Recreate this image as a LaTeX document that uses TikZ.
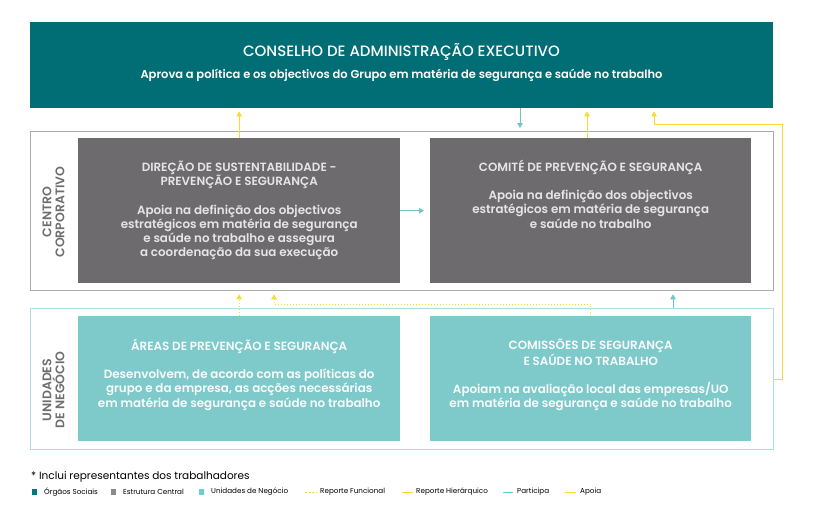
\documentclass[tikz,border=0pt]{standalone}
\usepackage{fontspec}
\setmainfont{Poppins}
\newfontfamily\popmedium{Poppins Medium}
\newfontfamily\popsemi{Poppins SemiBold}
\usepackage{tikz}
\usetikzlibrary{arrows,arrows.meta}
\definecolor{socialteal}{HTML}{006E74}
\definecolor{centralgray}{HTML}{6D6B6E}
\definecolor{unitteal}{HTML}{7EC9CA}
\definecolor{framegray}{HTML}{ABABAB}
\definecolor{frameteal}{HTML}{ACDFE0}
\definecolor{reportyellow}{HTML}{F5DC32}
\definecolor{jointeal}{HTML}{6EC6C8}
\definecolor{sidegray}{HTML}{6E6E6E}
\definecolor{legteal}{HTML}{00797B}
\definecolor{leggray}{HTML}{8A8A8A}
\definecolor{legunit}{HTML}{6CCFCF}
\tikzset{
  orgbox/.style={inner sep=0pt, anchor=north west},
  framebox/.style={orgbox, line width=1.3pt},
  boxtext/.style={anchor=north, align=center, inner sep=0pt, font=\popsemi\fontsize{11.9}{14.2}\selectfont},
  sidelabel/.style={rotate=90, align=center, inner sep=0pt, text=sidegray, font=\popsemi\fontsize{12.5}{13}\selectfont},
  tip/.style={-{Triangle[width=5.5pt,length=5pt]}},
  apoia/.style={draw=reportyellow, line width=0.8pt, tip},
  hierarquico/.style={draw=reportyellow, line width=0.8pt, tip},
  funcional/.style={draw=reportyellow, line width=0.8pt, dash pattern=on 1pt off 2pt, tip},
  participa/.style={draw=jointeal, line width=0.8pt, tip},
  legsq/.style={minimum size=5.5pt, inner sep=0pt},
  legtext/.style={anchor=west, inner sep=0pt, font=\fontsize{7.2}{8}\selectfont}
}
\begin{document}
\begin{tikzpicture}[x=1pt,y=-1pt]
\useasboundingbox (0,0) rectangle (814,525);

\node[orgbox, fill=socialteal, minimum width=743pt, minimum height=86pt] (conselho) at (30,22) {};
\node[text=white, font=\popmedium\fontsize{15}{17}\selectfont] (conselhotitle) at (401.5,52) {CONSELHO DE ADMINISTRAÇÃO EXECUTIVO};
\node[text=white, font=\popsemi\fontsize{11.5}{13}\selectfont] (conselhosub) at (401.5,75) {Aprova a política e os objectivos do Grupo em matéria de segurança e saúde no trabalho};

\node[framebox, draw=framegray, minimum width=743pt, minimum height=159pt] (centro) at (30,131) {};
\node[framebox, draw=frameteal, minimum width=743pt, minimum height=141pt] (unidades) at (30,308) {};

\node[orgbox, fill=centralgray, minimum width=322pt, minimum height=145pt] (direcao) at (78,138) {};
\node[orgbox, fill=centralgray, minimum width=321pt, minimum height=145pt] (comite) at (430,138) {};
\node[orgbox, fill=unitteal, minimum width=322pt, minimum height=125pt] (areas) at (78,316) {};
\node[orgbox, fill=unitteal, minimum width=321pt, minimum height=125pt] (comissoes) at (430,316) {};

\node[sidelabel] (centrolabel) at (53.5,212) {CENTRO\\CORPORATIVO};
\node[sidelabel] (unidadeslabel) at (53.5,390) {UNIDADES\\DE NEGÓCIO};

\node[boxtext, text=white!90!black] (direcaotext) at ([yshift=-23pt]direcao.north) {DIREÇÃO DE SUSTENTABILIDADE -\\PREVENÇÃO E SEGURANÇA\\[14pt]
Apoia na definição dos objectivos\\estratégicos em matéria de segurança\\e saúde no trabalho e assegura\\a coordenação da sua execução};
\node[boxtext, text=white!90!black] (comitetext) at ([yshift=-22pt]comite.north) {COMITÉ DE PREVENÇÃO E SEGURANÇA\\[14pt]
Apoia na definição dos objectivos\\estratégicos em matéria de segurança\\e saúde no trabalho};
\node[boxtext, text=white!95!unitteal] (areastext) at ([yshift=-23pt]areas.north) {ÁREAS DE PREVENÇÃO E SEGURANÇA\\[14pt]
Desenvolvem, de acordo com as políticas do\\grupo e da empresa, as acções necessárias\\em matéria de segurança e saúde no trabalho};
\node[boxtext, text=white!95!unitteal] (comissoestext) at ([yshift=-23pt]comissoes.north) {COMISSÕES DE SEGURANÇA\\E SAÚDE NO TRABALHO\\[14pt]
Apoiam na avaliação local das empresas/UO\\em matéria de segurança e saúde no trabalho};

\draw[apoia, shorten >=3pt] (direcao.north) -- (conselho.south -| direcao.north);
\draw[participa, shorten >=3pt] (conselho.south -| 520,0) -- (centro.north -| 520,0);
\draw[hierarquico, shorten >=3pt] (comite.north -| 587,0) -- (conselho.south -| 587,0);
\draw[apoia, shorten >=3pt] (unidades.east) -| (782,124) -| (conselho.south -| 654,0);
\draw[participa, shorten >=6pt] (direcao.east) -- (comite.west);
\draw[funcional, shorten >=3pt] (areas.north) -- (centro.south -| areas.north);
\draw[funcional, shorten >=3pt] (comissoes.north) |- (274,304) -- (centro.south -| 274,0);
\draw[participa, shorten >=3pt] (unidades.north -| 673,0) -- (centro.south -| 673,0);

\node[anchor=west, inner sep=0pt, font=\fontsize{10.5}{12}\selectfont] (nota) at (31,477) {* Inclui representantes dos trabalhadores};
\foreach \x/\c/\t in {34.5/legteal/Órgãos Sociais,113.5/leggray/Estrutura Central,201.5/legunit/Unidades de Negócio}{
\node[legsq, fill=\c] (sq\x) at (\x,492) {};
\node[legtext] at (\x+9.5,492) {\t};
}
\draw[draw=reportyellow, line width=0.8pt, dash pattern=on 2pt off 1.5pt] (305,492) -- (316,492);
\node[legtext] at (320,492) {Reporte Funcional};
\draw[draw=reportyellow, line width=0.8pt] (402,492) -- (413,492);
\node[legtext] at (416,492) {Reporte Hierárquico};
\draw[draw=jointeal, line width=0.8pt] (503,492) -- (513,492);
\node[legtext] at (517,492) {Participa};
\draw[draw=reportyellow, line width=0.8pt] (565,492) -- (576,492);
\node[legtext] at (580,492) {Apoia};
\end{tikzpicture}
\end{document}
